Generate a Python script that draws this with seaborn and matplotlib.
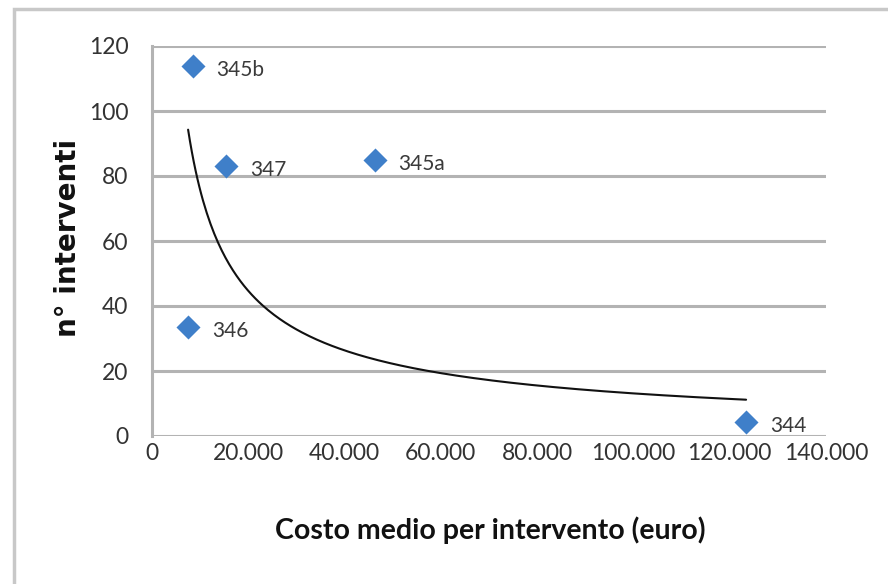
import numpy as np
import pandas as pd
import matplotlib
matplotlib.use("Agg")
import matplotlib.pyplot as plt
from matplotlib.patches import Rectangle
import seaborn as sns

# Average cost per intervention (euro) and number of interventions per code
codes = ["345b", "347", "345a", "346", "344"]
costo_medio = [8500, 15400, 46300, 7500, 123400]
n_interventi = [114, 83, 85, 33.5, 4.3]

x_ticks = [0, 20000, 40000, 60000, 80000, 100000, 120000, 140000]
x_tick_labels = ["0", "20.000", "40.000", "60.000", "80.000", "100.000", "120.000", "140.000"]
y_ticks = [0, 20, 40, 60, 80, 100, 120]

df = pd.DataFrame({"codice": codes, "costo": costo_medio, "n": n_interventi})

# Power trendline y = a * x^b fitted in log-log space
b, log_a = np.polyfit(np.log(df["costo"]), np.log(df["n"]), 1)
xs = np.linspace(df["costo"].min(), df["costo"].max(), 300)
trend = pd.DataFrame({"costo": xs, "n": np.exp(log_a) * xs ** b})

sns.set_theme(style="white")
plt.rcParams["font.family"] = ["Lato", "DejaVu Sans"]

fig = plt.figure(figsize=(8.88, 5.84), dpi=100)
ax = fig.add_axes([152 / 888, 1 - 436 / 584, 674 / 888, 390 / 584])

# light frame around the chart area
fig.patches.append(Rectangle((14 / 888, -0.1), 1.2, 1 - 9 / 584 + 0.1,
                             transform=fig.transFigure, fill=False,
                             edgecolor="#c8c8c8", linewidth=2.5, zorder=0))

grid_color = "#b3b3b3"
for yv in y_ticks:
    ax.axhline(yv, color=grid_color, linewidth=2.2, zorder=1)

sns.lineplot(data=trend, x="costo", y="n", ax=ax, color="#111111",
             linewidth=1.5, zorder=2)
sns.scatterplot(data=df, x="costo", y="n", ax=ax, marker="D", s=150,
                color="#3f7fc9", edgecolor="#3f7fc9", linewidth=0, zorder=3)

for _, r in df.iterrows():
    ax.annotate(r["codice"], (r["costo"], r["n"]), xytext=(17, -3),
                textcoords="offset points", va="center", ha="left",
                fontsize=15, color="#3a3a3a")

ax.set_xlim(0, 140000)
ax.set_ylim(0, 120)
ax.set_xticks(x_ticks)
ax.set_xticklabels(x_tick_labels)
ax.set_yticks(y_ticks)
ax.tick_params(axis="both", length=0, labelsize=16.5, colors="#333333")
ax.tick_params(axis="y", pad=17)
ax.tick_params(axis="x", pad=5)

for side in ["top", "right", "bottom"]:
    ax.spines[side].set_visible(False)
ax.spines["left"].set_color(grid_color)
ax.spines["left"].set_linewidth(2.2)

ax.set_xlabel("Costo medio per intervento (euro)", fontsize=20.5,
              fontweight="bold", color="#111111", va="center")
ax.xaxis.set_label_coords((490 - 152) / 674, (436 - 530) / 390)
ax.set_ylabel("n° interventi", fontsize=20, fontweight="bold",
              color="#111111", va="center",
              family=["DejaVu Sans"])
ax.yaxis.set_label_coords((68 - 152) / 674, (436 - 238) / 390)

fig.savefig("out.png", dpi=100, facecolor="white")
